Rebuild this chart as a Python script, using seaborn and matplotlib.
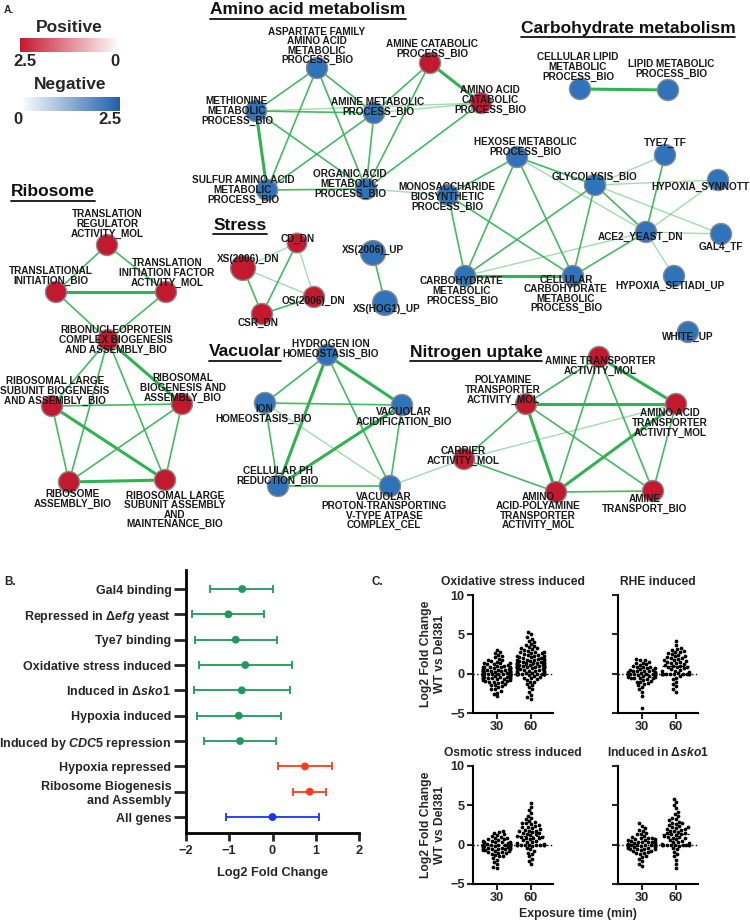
import warnings
import numpy as np
import pandas as pd
import matplotlib
matplotlib.use("Agg")
import matplotlib as mpl
import matplotlib.pyplot as plt
import seaborn as sns
from matplotlib.colors import LinearSegmentedColormap, Normalize

warnings.filterwarnings("ignore")

# ==========================================================
# Data - panel A (enrichment map)
# ==========================================================
node_ids = ["ASP", "AMCAT", "METH", "AMMET", "AACAT", "SULF", "ORG", "MONO",
            "CLIP", "LIP", "HEX", "TYE7", "GLY", "HSYN", "ACE2", "GAL4", "HSET",
            "CARB", "CCARB", "WHITE",
            "CD", "XSDN", "OS", "CSR", "XSUP", "HOG",
            "TRR", "TIN", "TIF", "RNP", "RLSB", "RBA", "RA", "RLSA",
            "HIH", "ION", "VAC", "CPH", "VPT",
            "ATA", "PTA", "AATA", "CAR", "AAPT", "AMT"]
node_labels = ["ASPARTATE FAMILY\nAMINO ACID\nMETABOLIC\nPROCESS_BIO",
               "AMINE CATABOLIC\nPROCESS_BIO",
               "METHIONINE\nMETABOLIC\nPROCESS_BIO",
               "AMINE METABOLIC\nPROCESS_BIO",
               "AMINO ACID\nCATABOLIC\nPROCESS_BIO",
               "SULFUR AMINO ACID\nMETABOLIC\nPROCESS_BIO",
               "ORGANIC ACID\nMETABOLIC\nPROCESS_BIO",
               "MONOSACCHARIDE\nBIOSYNTHETIC\nPROCESS_BIO",
               "CELLULAR LIPID\nMETABOLIC\nPROCESS_BIO",
               "LIPID METABOLIC\nPROCESS_BIO",
               "HEXOSE METABOLIC\nPROCESS_BIO",
               "TYE7_TF", "GLYCOLYSIS_BIO", "HYPOXIA_SYNNOTT", "ACE2_YEAST_DN",
               "GAL4_TF", "HYPOXIA_SETIADI_UP",
               "CARBOHYDRATE\nMETABOLIC\nPROCESS_BIO",
               "CELLULAR\nCARBOHYDRATE\nMETABOLIC\nPROCESS_BIO",
               "WHITE_UP",
               "CD_DN", "XS(2006)_DN", "OS(2006)_DN", "CSR_DN", "XS(2006)_UP", "XS(HOG1)_UP",
               "TRANSLATION\nREGULATOR\nACTIVITY_MOL",
               "TRANSLATIONAL\nINITIATION_BIO",
               "TRANSLATION\nINITIATION FACTOR\nACTIVITY_MOL",
               "RIBONUCLEOPROTEIN\nCOMPLEX BIOGENESIS\nAND ASSEMBLY_BIO",
               "RIBOSOMAL LARGE\nSUBUNIT BIOGENESIS\nAND ASSEMBLY_BIO",
               "RIBOSOMAL\nBIOGENESIS AND\nASSEMBLY_BIO",
               "RIBOSOME\nASSEMBLY_BIO",
               "RIBOSOMAL LARGE\nSUBUNIT ASSEMBLY\nAND\nMAINTENANCE_BIO",
               "HYDROGEN ION\nHOMEOSTASIS_BIO",
               "ION\nHOMEOSTASIS_BIO",
               "VACUOLAR\nACIDIFICATION_BIO",
               "CELLULAR PH\nREDUCTION_BIO",
               "VACUOLAR\nPROTON-TRANSPORTING\nV-TYPE ATPASE\nCOMPLEX_CEL",
               "AMINE TRANSPORTER\nACTIVITY_MOL",
               "POLYAMINE\nTRANSPORTER\nACTIVITY_MOL",
               "AMINO ACID\nTRANSPORTER\nACTIVITY_MOL",
               "CARRIER\nACTIVITY_MOL",
               "AMINO\nACID-POLYAMINE\nTRANSPORTER\nACTIVITY_MOL",
               "AMINE\nTRANSPORT_BIO"]
node_sign = ["neg", "pos", "neg", "neg", "pos", "neg", "neg", "neg",
             "neg", "neg", "neg", "neg", "neg", "neg", "neg", "neg", "neg",
             "neg", "neg", "neg",
             "pos", "pos", "pos", "pos", "neg", "neg",
             "pos", "pos", "pos", "pos", "pos", "pos", "pos", "pos",
             "neg", "neg", "neg", "neg", "neg",
             "pos", "pos", "pos", "pos", "pos", "pos"]
node_size = ["n"] * 20 + ["s", "b", "n", "n", "b", "b"] + ["n"] * 19

edge_a = ["ASP", "ASP", "ASP", "ASP", "AMCAT", "AMCAT", "AMCAT", "METH", "METH", "METH",
          "METH", "AMMET", "AMMET", "AMMET", "AACAT", "SULF", "ORG",
          "CLIP", "HEX", "HEX", "HEX", "HEX", "HEX", "MONO", "MONO", "GLY", "GLY", "GLY",
          "GLY", "GLY", "GLY", "ACE2", "ACE2", "ACE2", "ACE2", "ACE2", "ACE2", "CARB",
          "XSDN", "XSDN", "XSDN", "CD", "CD", "CSR", "XSUP",
          "TRR", "TRR", "TIN", "TIN", "TIF", "RNP", "RNP", "RNP", "RNP", "RLSB", "RLSB",
          "RLSB", "RBA", "RBA", "RA",
          "HIH", "HIH", "HIH", "HIH", "ION", "ION", "ION", "VAC", "VAC", "CPH", "VPT",
          "ATA", "ATA", "ATA", "ATA", "PTA", "PTA", "PTA", "PTA", "AATA", "AATA", "AATA",
          "CAR", "AAPT"]
edge_b = ["METH", "AMMET", "SULF", "ORG", "AACAT", "AMMET", "ORG", "AMMET", "AACAT", "SULF",
          "ORG", "AACAT", "ORG", "SULF", "ORG", "ORG", "MONO",
          "LIP", "MONO", "GLY", "CARB", "CCARB", "ACE2", "CARB", "CCARB", "TYE7", "HSYN", "ACE2",
          "GAL4", "CARB", "CCARB", "TYE7", "HSYN", "GAL4", "HSET", "CARB", "CCARB", "CCARB",
          "CD", "OS", "CSR", "OS", "CSR", "OS", "HOG",
          "TIN", "TIF", "TIF", "RNP", "RNP", "RLSB", "RBA", "RA", "RLSA", "RBA", "RA",
          "RLSA", "RA", "RLSA", "RLSA",
          "ION", "VAC", "CPH", "VPT", "VAC", "CPH", "VPT", "CPH", "VPT", "VPT", "CAR",
          "PTA", "AATA", "AAPT", "AMT", "AATA", "CAR", "AAPT", "AMT", "CAR", "AAPT", "AMT",
          "AAPT", "AMT"]
edge_w = [2, 2, 2, 2, 3, 2, 2, 2, 1, 3,
          2, 1, 2, 2, 2, 2, 1,
          3, 2, 2, 2, 2, 1, 2, 2, 1, 1, 2,
          1, 2, 2, 2, 1, 1, 1, 1, 2, 3,
          1, 1, 2, 1, 2, 2, 2,
          2, 2, 3, 2, 2, 2, 3, 2, 2, 2, 2,
          3, 2, 2, 3,
          2, 3, 3, 2, 2, 2, 1, 3, 2, 2, 1,
          2, 3, 2, 2, 3, 2, 3, 2, 1, 3, 2,
          2, 2]

cluster_titles = ["Amino acid metabolism", "Carbohydrate metabolism", "Ribosome",
                  "Stress", "Vacuolar", "Nitrogen uptake"]

# ==========================================================
# Data - panel B (gene set log2 fold change)
# ==========================================================
b_labels = ["Gal4 binding",
            r"Repressed in $\Delta\mathit{efg}$ yeast",
            "Tye7 binding",
            "Oxidative stress induced",
            r"Induced in $\Delta\mathit{sko1}$",
            "Hypoxia induced",
            r"Induced by $\mathit{CDC5}$ repression",
            "Hypoxia repressed",
            "Ribosome Biogenesis\nand Assembly",
            "All genes"]
b_mean = [-0.70, -1.02, -0.85, -0.63, -0.71, -0.78, -0.75, 0.75, 0.86, 0.00]
b_low = [-1.45, -1.86, -1.80, -1.71, -1.82, -1.75, -1.59, 0.13, 0.48, -1.07]
b_high = [0.02, -0.19, 0.10, 0.45, 0.40, 0.20, 0.07, 1.38, 1.23, 1.08]
b_group = ["down", "down", "down", "down", "down", "down", "down", "up", "up", "all"]

# ==========================================================
# Data - panel C (log2 FC per gene at 30 / 60 min)
# ==========================================================
c_titles = ["Oxidative stress induced", "RHE induced",
            "Osmotic stress induced", r"Induced in $\Delta\mathit{sko1}$"]
times = ["30", "60"]

ox30 = [3.0, 2.8, 2.6, 2.4, 2.2, 2.1, 1.9, 1.8, 1.7, 1.6, 1.5, 1.4, 1.4, 1.3, 1.2, 1.2,
        1.1, 1.0, 1.0, 0.9, 0.9, 0.8, 0.8, 0.8, 0.7, 0.7, 0.7, 0.6, 0.6, 0.6, 0.5, 0.5,
        0.5, 0.5, 0.4, 0.4, 0.4, 0.3, 0.3, 0.3, 0.3, 0.2, 0.2, 0.2, 0.1, 0.1, 0.1, 0.0,
        0.0, 0.0, 0.0, 0.0, 0.0, 0.0, 0.0, 0.0, 0.0, 0.0, 0.0, -0.1, -0.1, -0.1, -0.2,
        -0.2, -0.2, -0.3, -0.3, -0.3, -0.3, -0.4, -0.4, -0.4, -0.5, -0.5, -0.5, -0.6,
        -0.6, -0.6, -0.7, -0.7, -0.8, -0.8, -0.9, -0.9, -1.0, -1.0, -1.1, -1.2, -1.3,
        -1.4, -1.5, -1.6, -1.7, -1.9, -2.0, -2.2, -2.4, -2.6, -2.9]
ox60 = [5.3, 5.0, 4.6, 4.4, 4.2, 4.0, 3.8, 3.7, 3.5, 3.4, 3.3, 3.2, 3.1, 3.0, 2.9, 2.8,
        2.8, 2.7, 2.6, 2.6, 2.5, 2.4, 2.4, 2.3, 2.2, 2.2, 2.1, 2.1, 2.0, 2.0, 1.9, 1.9,
        1.8, 1.8, 1.7, 1.7, 1.6, 1.6, 1.5, 1.5, 1.5, 1.4, 1.4, 1.4, 1.3, 1.3, 1.3, 1.2,
        1.2, 1.2, 1.1, 1.1, 1.1, 1.0, 1.0, 1.0, 1.0, 1.0, 0.9, 0.9, 0.9, 0.9, 0.8, 0.8,
        0.8, 0.7, 0.7, 0.7, 0.6, 0.6, 0.5, 0.5, 0.4, 0.4, 0.3, 0.3, 0.2, 0.2, 0.1, 0.1,
        0.0, 0.0, 0.0, 0.0, 0.0, 0.0, 0.0, 0.0, 0.0, 0.0, 0.0, -0.1, -0.2, -0.3, -0.4,
        -0.5, -0.6, -0.7, -0.8, -1.0, -1.1, -1.3, -1.5, -1.7, -2.0, -2.3, -2.7, -3.0, -3.2]
rhe30 = [1.9, 1.8, 1.7, 1.5, 1.4, 1.3, 1.2, 1.1, 1.0, 0.9, 0.9, 0.8, 0.7, 0.7, 0.6, 0.5,
         0.5, 0.4, 0.4, 0.3, 0.3, 0.2, 0.2, 0.1, 0.1, 0.0, 0.0, 0.0, 0.0, 0.0, 0.0, 0.0,
         0.0, -0.1, -0.1, -0.2, -0.2, -0.3, -0.3, -0.4, -0.4, -0.5, -0.5, -0.6, -0.6,
         -0.7, -0.8, -0.9, -1.0, -1.1, -1.2, -1.3, -1.5, -1.7, -2.0, -2.3, -2.9, -4.4]
rhe60 = [4.2, 3.6, 3.3, 3.1, 3.0, 2.9, 2.8, 2.7, 2.6, 2.5, 2.4, 2.3, 2.2, 2.1, 2.0, 2.0,
         1.9, 1.8, 1.7, 1.6, 1.5, 1.5, 1.4, 1.3, 1.2, 1.1, 1.0, 1.0, 0.9, 0.9, 0.8, 0.7,
         0.6, 0.5, 0.4, 0.3, 0.2, 0.1, 0.0, 0.0, 0.0, 0.0, 0.0, 0.0, 0.0, 0.0, 0.0, -0.1,
         -0.3, -0.5, -0.7, -1.0, -1.3, -1.6, -2.0, -2.3]
os30 = [1.8, 1.6, 1.5, 1.3, 1.2, 1.1, 1.0, 0.9, 0.8, 0.7, 0.7, 0.6, 0.5, 0.5, 0.4, 0.4,
        0.3, 0.3, 0.2, 0.2, 0.1, 0.1, 0.0, 0.0, 0.0, 0.0, 0.0, 0.0, 0.0, 0.0, 0.0, -0.1,
        -0.1, -0.2, -0.2, -0.2, -0.3, -0.3, -0.3, -0.4, -0.4, -0.4, -0.5, -0.5, -0.5,
        -0.6, -0.6, -0.7, -0.7, -0.8, -0.8, -0.9, -0.9, -1.0, -1.1, -1.2, -1.3, -1.4,
        -1.5, -1.7, -1.9, -2.2, -2.5, -2.8, -3.0]
os60 = [5.3, 4.8, 4.4, 4.0, 3.7, 3.4, 3.2, 3.0, 2.9, 2.8, 2.7, 2.6, 2.5, 2.4, 2.3, 2.2,
        2.1, 2.0, 1.9, 1.8, 1.8, 1.7, 1.6, 1.5, 1.5, 1.4, 1.3, 1.2, 1.1, 1.0, 1.0, 0.9,
        0.9, 0.8, 0.7, 0.6, 0.5, 0.4, 0.3, 0.2, 0.1, 0.0, 0.0, 0.0, 0.0, 0.0, 0.0, 0.0,
        0.0, 0.0, -0.2, -0.4, -0.6, -0.8, -1.0, -1.2, -1.5, -1.8, -2.1, -2.5]
sko30 = [2.7, 2.4, 2.1, 1.9, 1.7, 1.5, 1.4, 1.3, 1.1, 1.0, 0.9, 0.9, 0.8, 0.7, 0.7, 0.6,
         0.6, 0.5, 0.5, 0.4, 0.4, 0.3, 0.3, 0.2, 0.2, 0.1, 0.1, 0.0, 0.0, 0.0, 0.0, 0.0,
         0.0, 0.0, 0.0, 0.0, -0.1, -0.1, -0.2, -0.2, -0.3, -0.3, -0.3, -0.4, -0.4, -0.5,
         -0.5, -0.6, -0.6, -0.7, -0.8, -0.8, -0.9, -1.0, -1.1, -1.2, -1.4, -1.6, -1.8,
         -2.1, -2.4, -2.7]
sko60 = [5.8, 5.4, 5.0, 4.6, 4.2, 3.9, 3.6, 3.4, 3.2, 3.1, 2.9, 2.8, 2.7, 2.6, 2.5, 2.4,
         2.3, 2.2, 2.1, 2.0, 2.0, 1.9, 1.8, 1.7, 1.6, 1.5, 1.5, 1.4, 1.3, 1.2, 1.1, 1.0,
         1.0, 0.9, 0.8, 0.7, 0.6, 0.5, 0.4, 0.3, 0.2, 0.1, 0.0, 0.0, 0.0, 0.0, 0.0, 0.0,
         0.0, 0.0, 0.0, -0.2, -0.4, -0.6, -0.9, -1.2, -1.5, -1.9, -2.4, -3.0]
c_data = [(ox30, ox60), (rhe30, rhe60), (os30, os60), (sko30, sko60)]

# ==========================================================
# Layout (pixel coordinates of the 750x923 figure)
# ==========================================================
W, H = 750, 923
node_x = [317, 430, 256, 374, 481, 267, 366, 448,
          580, 668, 517, 665, 595, 718, 646, 721, 674, 465, 573, 688,
          297, 243, 314, 262, 373, 385,
          107, 56, 166, 108, 52, 182, 69, 165,
          327, 265, 402, 278, 390,
          599, 526, 676, 464, 556, 653]
node_y = [68, 63, 111, 113, 103, 190, 189, 195,
          89, 90, 157, 155, 185, 180, 232, 234, 276, 276, 276, 332,
          243, 268, 297, 314, 253, 303,
          245, 292, 292, 340, 406, 404, 482, 480,
          355, 403, 405, 486, 486,
          357, 404, 404, 459, 492, 491]
lab_x = [317, 432, 237, 378, 490, 243, 350, 447,
         578, 671, 525, 665, 595, 700, 640, 721, 670, 462, 566, 688,
         298, 248, 313, 258, 373, 387,
         107, 51, 167, 116, 55, 183, 73, 175,
         331, 264, 404, 278, 384,
         600, 503, 670, 463, 538, 645]
lab_y = [46, 49, 111, 107, 100, 190, 184, 197,
         67, 69, 147, 143, 177, 187, 237, 247, 286, 291, 294, 337,
         239, 259, 301, 323, 250, 309,
         224, 276, 273, 340, 391, 388, 499, 510,
         349, 414, 417, 476, 511,
         366, 390, 423, 456, 511, 504]
title_x = [308, 628, 53, 240, 245, 476]
title_y = [10, 28, 192, 225, 352, 352]

RED = "#c3192f"
BLUE = "#2f74ba"
EDGE = "#2fb351"
GREEN = "#1f9a5c"

# ==========================================================
# Style
# ==========================================================
sns.set_theme(style="ticks")
plt.rcParams["font.family"] = ["Liberation Sans", "DejaVu Sans"]
plt.rcParams["font.weight"] = "bold"
plt.rcParams["axes.labelweight"] = "bold"
plt.rcParams["axes.titleweight"] = "bold"
plt.rcParams["mathtext.fontset"] = "custom"
plt.rcParams["mathtext.rm"] = "Liberation Sans:bold"
plt.rcParams["mathtext.it"] = "Liberation Sans:italic:bold"
plt.rcParams["mathtext.bf"] = "Liberation Sans:bold"

fig = plt.figure(figsize=(W / 100, H / 100), dpi=100)


def px_axes(left, top, right, bottom, **kw):
    return fig.add_axes([left / W, 1 - bottom / H, (right - left) / W, (bottom - top) / H], **kw)


# ==========================================================
# Panel A - network
# ==========================================================
ax = fig.add_axes([0, 0, 1, 1])
idx = {k: i for i, k in enumerate(node_ids)}
for a, b, w in zip(edge_a, edge_b, edge_w):
    lw = {1: 1.0, 2: 1.2, 3: 2.2}[w]
    al = {1: 0.45, 2: 0.9, 3: 1.0}[w]
    ax.plot([node_x[idx[a]], node_x[idx[b]]], [node_y[idx[a]], node_y[idx[b]]],
            color=EDGE, lw=lw, alpha=al, zorder=1, solid_capstyle="butt")

nodes = pd.DataFrame({"x": node_x, "y": node_y, "sign": node_sign, "size": node_size})
sns.scatterplot(data=nodes, x="x", y="y", hue="sign", palette={"pos": RED, "neg": BLUE},
                size="size", sizes={"s": 200, "n": 230, "b": 320},
                edgecolor="#8c8c8c", linewidth=1.0, legend=False, ax=ax, zorder=3)

for lbl, x, y in zip(node_labels, lab_x, lab_y):
    ax.text(x, y, lbl, fontsize=7.2, ha="center", va="center", linespacing=0.95,
            color="#1a1a1a", zorder=4)

title_texts = []
for t, x, y in zip(cluster_titles, title_x, title_y):
    title_texts.append(ax.text(x, y, t, fontsize=12.5, ha="center", va="center",
                               color="#111111", zorder=4))

ax.text(4, 10, "A.", fontsize=7.5, ha="left", va="center")
ax.text(4, 582, "B.", fontsize=8.5, ha="left", va="center")
ax.text(372, 582, "C.", fontsize=8.5, ha="left", va="center")

# colour legends
ax.text(69, 28, "Positive", fontsize=12.5, ha="center", va="center")
ax.text(25, 62, "2.5", fontsize=12, ha="center", va="center")
ax.text(115, 62, "0", fontsize=12, ha="center", va="center")
ax.text(70, 85, "Negative", fontsize=12.5, ha="center", va="center")
ax.text(18, 119, "0", fontsize=12, ha="center", va="center")
ax.text(110, 119, "2.5", fontsize=12, ha="center", va="center")

ax.set_xlim(0, W)
ax.set_ylim(H, 0)
ax.set_axis_off()

cax_pos = px_axes(20, 38, 120, 52)
cb1 = mpl.colorbar.ColorbarBase(cax_pos, cmap=LinearSegmentedColormap.from_list("r", ["white", RED]),
                                norm=Normalize(0, 2.5), orientation="horizontal")
cax_pos.invert_xaxis()
cax_neg = px_axes(20, 97, 120, 111)
cb2 = mpl.colorbar.ColorbarBase(cax_neg, cmap=LinearSegmentedColormap.from_list("b", ["white", "#1f5fab"]),
                                norm=Normalize(0, 2.5), orientation="horizontal")
for cb in (cb1, cb2):
    cb.outline.set_visible(False)
    cb.set_ticks([])

# underline the cluster titles
fig.canvas.draw()
inv = ax.transData.inverted()
for t in title_texts:
    bb = t.get_window_extent()
    (x0, y0), (x1, y1) = inv.transform([[bb.x0, bb.y0], [bb.x1, bb.y1]])
    ax.plot([x0, x1], [y0 + 1, y0 + 1], color="#111111", lw=1.3, zorder=4)

# ==========================================================
# Panel B - forest plot
# ==========================================================
axb = px_axes(186, 570, 359, 833)
pos = np.arange(len(b_labels))
b_colors = {"down": GREEN, "up": "#ff3a1f", "all": "#1733ff"}
for g, col in b_colors.items():
    sel = [i for i in pos if b_group[i] == g]
    m = np.array([b_mean[i] for i in sel])
    lo = m - np.array([b_low[i] for i in sel])
    hi = np.array([b_high[i] for i in sel]) - m
    axb.errorbar(m, sel, xerr=[lo, hi], fmt="none", ecolor=col, elinewidth=1.3,
                 capsize=3, capthick=1.3, zorder=2)
sns.scatterplot(x=b_mean, y=pos, hue=b_group, palette=b_colors, s=32, edgecolor="none",
                legend=False, ax=axb, zorder=3)
axb.set_xlim(-2, 2)
axb.set_ylim(9.63, -0.75)
axb.set_xticks([-2, -1, 0, 1, 2])
axb.set_yticks(pos)
axb.set_yticklabels(b_labels, fontsize=9)
axb.tick_params(axis="x", labelsize=9.2, length=6, width=2.0, pad=3)
axb.tick_params(axis="y", length=9, width=2.0, pad=1.5)
axb.set_xlabel("Log2 Fold Change", fontsize=9.2, labelpad=7)
axb.set_ylabel("")
sns.despine(ax=axb)
for s in ("left", "bottom"):
    axb.spines[s].set_linewidth(2.0)
    axb.spines[s].set_color("black")

# ==========================================================
# Panel C - swarm plots
# ==========================================================
c_boxes = [(473, 595, 553, 713), (618, 595, 698, 713),
           (473, 766, 553, 884), (618, 766, 698, 884)]
for k, (box, title, (d30, d60)) in enumerate(zip(c_boxes, c_titles, c_data)):
    axc = px_axes(*box)
    df = pd.DataFrame({"time": ["30"] * len(d30) + ["60"] * len(d60),
                       "lfc": d30 + d60})
    axc.axhline(0, color="black", ls=":", lw=1.0, zorder=1)
    sns.swarmplot(data=df, x="time", y="lfc", order=times, color="black", size=2.7,
                  linewidth=0, ax=axc, zorder=2)
    axc.hlines(np.mean(d60), 0.6, 1.4, colors="black", linestyles=(0, (3, 2)), lw=0.9, zorder=3)
    axc.set_xlim(-0.7, 1.65)
    axc.set_ylim(-5, 10)
    axc.set_yticks([-5, 0, 5, 10])
    axc.set_title(title, fontsize=8.7, pad=7)
    axc.set_xlabel("")
    if k % 2 == 0:
        axc.set_ylabel("Log2 Fold Change\nWT vs Del381", fontsize=8.7, labelpad=3)
    else:
        axc.set_ylabel("")
        axc.set_yticklabels([])
    axc.tick_params(labelsize=9.2, length=4, width=1.5, pad=2)
    sns.despine(ax=axc)
    for s in ("left", "bottom"):
        axc.spines[s].set_linewidth(1.5)
        axc.spines[s].set_color("black")

fig.text(578 / W, 1 - 914 / H, "Exposure time (min)", fontsize=8.8, ha="center", va="center")

fig.savefig("out.png", dpi=100)
